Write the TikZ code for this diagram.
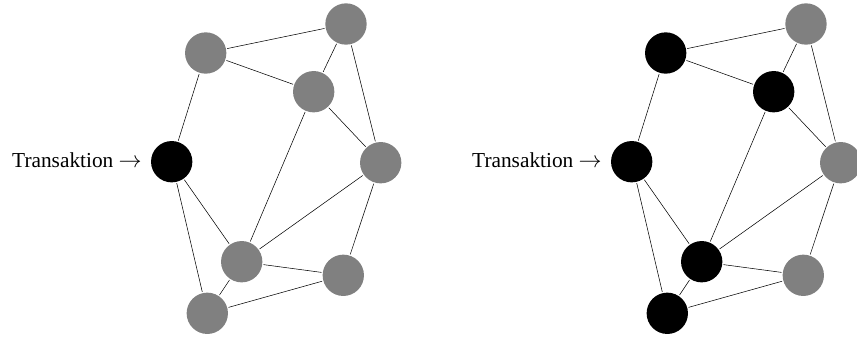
\documentclass[tikz,border=0pt]{standalone}
\usepackage{fontspec}
\setmainfont{Liberation Serif}

\tikzset{
  vtx/.style={circle, minimum size=31pt, inner sep=0pt, outer sep=1pt},
  idle/.style={vtx, fill=gray},
  hit/.style={vtx, fill=black},
  txn/.style={anchor=east, inner sep=0.75pt, font=\fontsize{16}{19}\selectfont}
}

\begin{document}
\begin{tikzpicture}[x=0.75pt,y=0.75pt,yscale=-1,xscale=1]
        \useasboundingbox (0,0) rectangle (857,337);
        % Left graph, only the entry node is reached
        \node[idle] (la) at (205.7,53) {};
        \node[idle] (lb) at (346,24) {};
        \node[idle] (lc) at (313.7,91.7) {};
        \node[hit]  (ld) at (171.7,161.7) {};
        \node[idle] (le) at (380.7,162.7) {};
        \node[idle] (lf) at (241.7,261.7) {};
        \node[idle] (lg) at (343.3,275.3) {};
        \node[idle] (lh) at (207.3,313.3) {};
        \draw (la) -- (lb) (la) -- (lc) (lc) -- (lb) (lb) -- (le) (lc) -- (le)
              (la) -- (ld) (ld) -- (lf) (ld) -- (lh) (lc) -- (lf) (lf) -- (le)
              (lf) -- (lg) (lf) -- (lh) (lh) -- (lg) (le) -- (lg);
        % Text Node
        \node[txn] (lt) at (143,160) {Transaktion $\rightarrow$};

        % Right graph, after the transaction has spread
        \node[hit]  (ra) at (665.7,53) {};
        \node[idle] (rb) at (806,24) {};
        \node[hit]  (rc) at (773.7,91.7) {};
        \node[hit]  (rd) at (631.7,161.7) {};
        \node[idle] (re) at (840.7,162.7) {};
        \node[hit]  (rf) at (701.7,261.7) {};
        \node[idle] (rg) at (803.3,275.3) {};
        \node[hit]  (rh) at (667.3,313.3) {};
        \draw (ra) -- (rb) (ra) -- (rc) (rc) -- (rb) (rb) -- (re) (rc) -- (re)
              (ra) -- (rd) (rd) -- (rf) (rd) -- (rh) (rc) -- (rf) (rf) -- (re)
              (rf) -- (rg) (rf) -- (rh) (rh) -- (rg) (re) -- (rg);
        % Text Node
        \node[txn] (rt) at (603,160) {Transaktion $\rightarrow$};
\end{tikzpicture}
\end{document}
